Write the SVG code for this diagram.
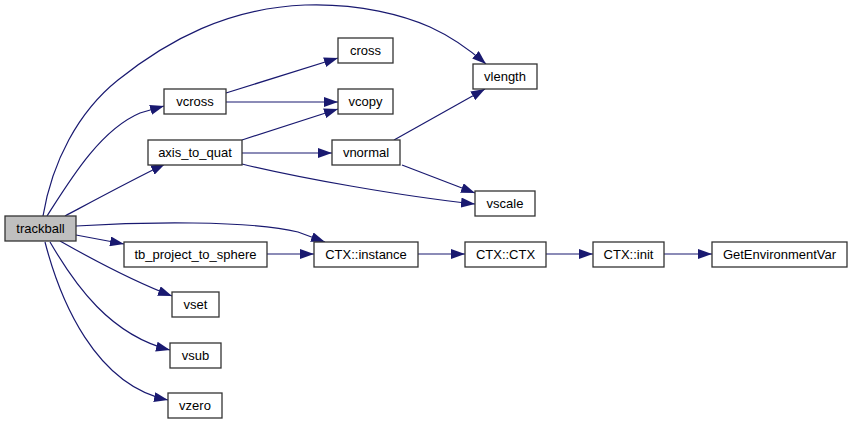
<svg xmlns="http://www.w3.org/2000/svg" width="852" height="425" viewBox="0 0 852 425">
<style>
.n rect{fill:#fff;stroke:#333;stroke-width:1.3}
.n text{font-family:"Liberation Sans",Arial,sans-serif;font-size:13px;fill:#000;text-anchor:middle}
#trackball rect{fill:#bfbfbf}
#edges path{fill:none;stroke:#191970;stroke-width:1.2;marker-end:url(#ah)}
</style>
<defs>
<marker id="ah" viewBox="0 0 14 10" refX="14" refY="5" markerWidth="14" markerHeight="10" markerUnits="userSpaceOnUse" orient="auto">
<polygon points="0,0 14,5 0,10" fill="#191970"/>
</marker>
</defs>
<rect width="852" height="425" fill="#fff"/>
<g id="edges">
<path d="M43,216 C52,162 78,112 118,80 C168,40 228,8 305,5 C360,3 405,16 430,27 C452,37 470,50 486,64"/>
<path d="M47,216 C70,180 100,130 140,113 L164,106"/>
<path d="M65,216 C95,200 130,181 165,164"/>
<path d="M76,226 C140,222 250,220 298,232 L325,242"/>
<path d="M76,235 L124,244"/>
<path d="M60,241 C90,258 130,280 172,296"/>
<path d="M50,242 C75,285 110,335 170,350"/>
<path d="M45,242 C60,300 95,385 168,400"/>
<path d="M226,93 L338,58"/>
<path d="M226,102 L338,102"/>
<path d="M242,140 L338,109"/>
<path d="M242,153 L332,153"/>
<path d="M242,164 C300,178 400,196 475,204"/>
<path d="M394,140 L485,89"/>
<path d="M402,165 L475,193"/>
<path d="M267,254 L314,254"/>
<path d="M418,254 L465,254"/>
<path d="M546,254 L593,254"/>
<path d="M664,254 L712,254"/>
</g>
<g id="trackball" class="n"><rect x="5" y="216" width="71" height="25"/><text x="40.5" y="233">trackball</text></g>
<g id="vcross" class="n"><rect x="164" y="89" width="62" height="25"/><text x="195" y="106">vcross</text></g>
<g id="axis_to_quat" class="n"><rect x="148" y="140" width="94" height="25"/><text x="195" y="157">axis_to_quat</text></g>
<g id="tb_project_to_sphere" class="n"><rect x="124" y="242" width="143" height="25"/><text x="195.5" y="259">tb_project_to_sphere</text></g>
<g id="vset" class="n"><rect x="172" y="292" width="47" height="25"/><text x="195.5" y="309">vset</text></g>
<g id="vsub" class="n"><rect x="170" y="343" width="51" height="25"/><text x="195.5" y="360">vsub</text></g>
<g id="vzero" class="n"><rect x="168" y="393" width="54" height="25"/><text x="195" y="410">vzero</text></g>
<g id="cross" class="n"><rect x="338" y="38" width="55" height="25"/><text x="365.5" y="55">cross</text></g>
<g id="vcopy" class="n"><rect x="338" y="89" width="55" height="25"/><text x="365.5" y="106">vcopy</text></g>
<g id="vnormal" class="n"><rect x="332" y="140" width="68" height="25"/><text x="366" y="157">vnormal</text></g>
<g id="vlength" class="n"><rect x="473" y="64" width="64" height="25"/><text x="505" y="81">vlength</text></g>
<g id="vscale" class="n"><rect x="475" y="191" width="60" height="25"/><text x="505" y="208">vscale</text></g>
<g id="CTX_instance" class="n"><rect x="314" y="242" width="104" height="25"/><text x="366" y="259">CTX::instance</text></g>
<g id="CTX_CTX" class="n"><rect x="465" y="242" width="81" height="25"/><text x="505.5" y="259">CTX::CTX</text></g>
<g id="CTX_init" class="n"><rect x="593" y="242" width="71" height="25"/><text x="628.5" y="259">CTX::init</text></g>
<g id="GetEnvironmentVar" class="n"><rect x="712" y="242" width="135" height="25"/><text x="779.5" y="259">GetEnvironmentVar</text></g>
</svg>
